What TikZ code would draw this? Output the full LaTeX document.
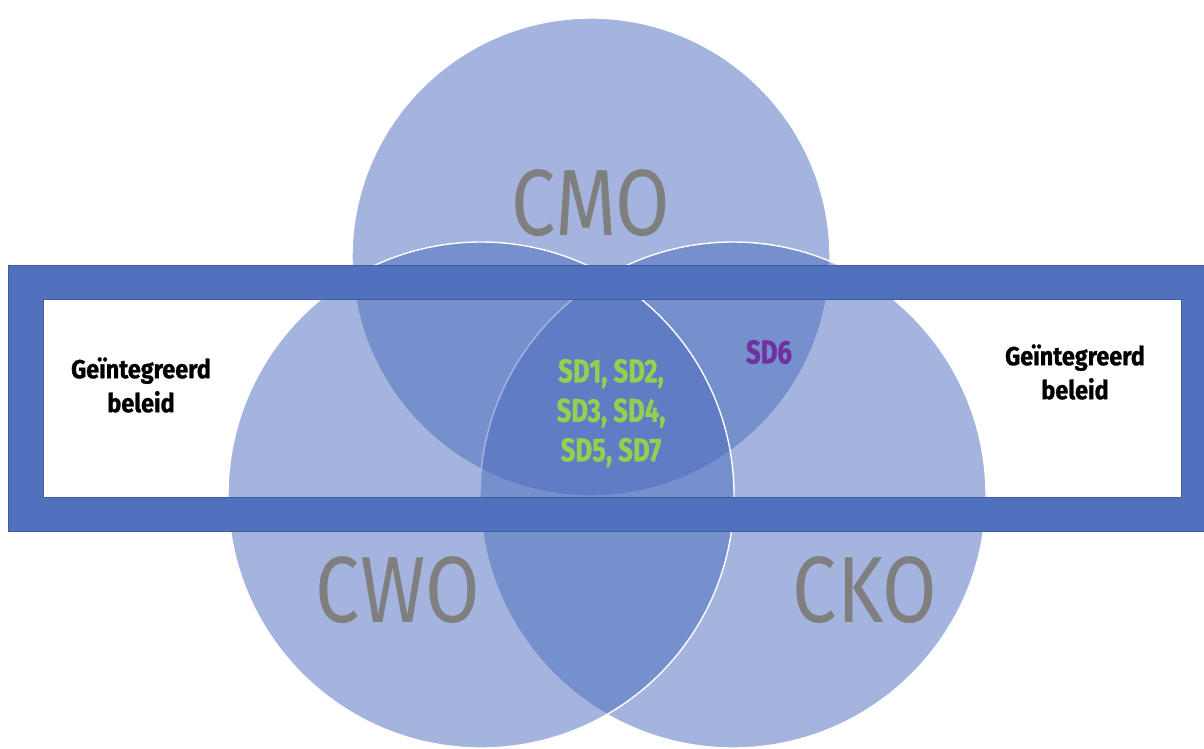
\documentclass[tikz,border=0pt]{standalone}
\usepackage{fontspec}
\setmainfont{Fira Sans}
\newfontfamily\labelf{Fira Sans}[FakeStretch=0.84]
\newfontfamily\boldf{Fira Sans}[FakeStretch=0.78, BoldFeatures={FakeBold=0.8}]
\newfontfamily\sidef{Fira Sans}[FakeStretch=0.9, BoldFeatures={FakeBold=1}]
\definecolor{circblue}{HTML}{4A6BBE}
\definecolor{bandblue}{HTML}{4F71BE}
\definecolor{bandedge}{HTML}{3E5E9E}
\definecolor{labgray}{HTML}{7F7F7F}
\definecolor{sdgreen}{HTML}{92D050}
\definecolor{sdpurple}{HTML}{7030A0}
\begin{document}
\begin{tikzpicture}[x=1pt,y=-1pt,
  venn/.style={circle, inner sep=0pt, fill=circblue, fill opacity=0.5, draw=white, draw opacity=1, line width=1.4pt},
  biglabel/.style={text=labgray, font=\labelf\fontsize{94}{94}\selectfont, inner sep=0pt},
  sidelabel/.style={text=black, font=\sidef\bfseries\fontsize{26}{34}\selectfont, align=center, inner sep=0pt},
  sdlabel/.style={font=\boldf\bfseries\fontsize{33}{39.5}\selectfont, align=center, inner sep=0pt}]
\useasboundingbox (0,0) rectangle (1204,749);
\fill[white] (0,0) rectangle (1204,749);
\begin{scope}
\clip (0,0) rectangle (1204,749);
\node[venn, minimum size=478pt] (cmo) at (591,257) {};
\node[venn, minimum size=506pt] (cko) at (733,495) {};
\node[venn, minimum size=506pt] (cwo) at (481,495) {};
\end{scope}
% band frame
\fill[bandblue, even odd rule] (8,265) rectangle (1204,531) (43,299) rectangle (1181,497);
\draw[bandedge, line width=0.8pt] (8,265) rectangle (1204,531);
\draw[bandedge, line width=0.8pt] (43,299) rectangle (1181,497);
% labels
\node[biglabel] (tcmo) at (591,203) {CMO};
\node[biglabel] (tcwo) at (398,590) {CWO};
\node[biglabel] (tcko) at (865,590) {CKO};
\node[sidelabel] (gl) at (141,385) {Geïntegreerd\\beleid};
\node[sidelabel] (gr) at (1075,372) {Geïntegreerd\\beleid};
\node[sdlabel, text=sdgreen] (sd) at (611,413) {SD1, SD2,\\SD3, SD4,\\SD5, SD7};
\node[sdlabel, text=sdpurple] (sd6) at (769,352) {SD6};
\end{tikzpicture}
\end{document}
